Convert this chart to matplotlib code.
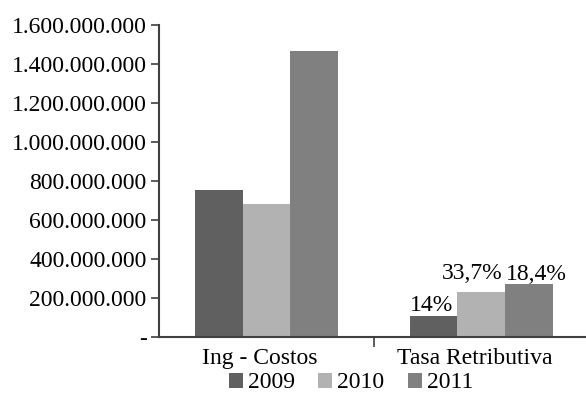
import matplotlib
matplotlib.use("Agg")
import matplotlib.pyplot as plt
import numpy as np
from matplotlib.ticker import FuncFormatter

categories = ["Ing - Costos", "Tasa Retributiva"]
years = ["2009", "2010", "2011"]
values_2009 = [753_000_000, 105_000_000]
values_2010 = [680_000_000, 229_000_000]
values_2011 = [1_466_000_000, 271_000_000]
tasa_labels = ["14%", "33,7%", "18,4%"]
colors = ["#606060", "#b2b2b2", "#808080"]

plt.rcParams['font.family'] = ['Liberation Serif', 'DejaVu Serif']
plt.rcParams['font.size'] = 17

W, H = 586, 401
fig = plt.figure(figsize=(W / 100, H / 100), dpi=100)
left_px, right_px, top_px, bot_px = 159, 588.6, 25, 336.5
ax = fig.add_axes([left_px / W, (H - bot_px) / H, (right_px - left_px) / W, (bot_px - top_px) / H])

x = np.arange(len(categories))
w = 0.2214
series = [values_2009, values_2010, values_2011]
for i, (vals, yr, c) in enumerate(zip(series, years, colors)):
    ax.bar(x + (i - 1) * w, vals, width=w, color=c, label=yr, edgecolor='none', zorder=2)

ax.set_xlim(-0.5, 1.5)
ax.set_ylim(0, 1_600_000_000)
ax.set_yticks(np.arange(0, 1_600_000_001, 200_000_000))

def fmt(v, pos):
    if v == 0:
        return "-"
    return f"{int(v):,}".replace(",", ".")

ax.yaxis.set_major_formatter(FuncFormatter(fmt))

ax.set_xticks(x - 0.03)
ax.set_xticklabels(categories)
ax.tick_params(axis='x', length=0, pad=8)
ax.set_xticks([0.5], minor=True)
ax.tick_params(axis='x', which='minor', length=7, width=1.2, color='#404040', direction='out')
ax.tick_params(axis='y', length=6, width=1.2, color='#404040', direction='out', pad=3)

for s in ['top', 'right']:
    ax.spines[s].set_visible(False)
for s in ['left', 'bottom']:
    ax.spines[s].set_color('#404040')
    ax.spines[s].set_linewidth(1.5)

# Data labels for Tasa Retributiva
tasa_vals = [values_2009[1], values_2010[1], values_2011[1]]
label_y = [tasa_vals[0], max(tasa_vals[1], tasa_vals[2]), tasa_vals[2]]
x_off = [-1.5, -6.5, 5.8]
y_off = [4, 3.5, 3]
for i, (lbl, yv) in enumerate(zip(tasa_labels, label_y)):
    xb = x[1] + (i - 1) * w
    ax.annotate(lbl, (xb, yv), xytext=(x_off[i], y_off[i]), textcoords='offset points',
                ha='center', va='baseline', fontsize=17)

fig.legend(loc='center', bbox_to_anchor=(351 / W, (H - 383) / H), ncol=3, frameon=False,
           handlelength=0.6, handleheight=0.6, handletextpad=0.2, columnspacing=1.0,
           fontsize=17)

fig.savefig("out.png", dpi=100)
